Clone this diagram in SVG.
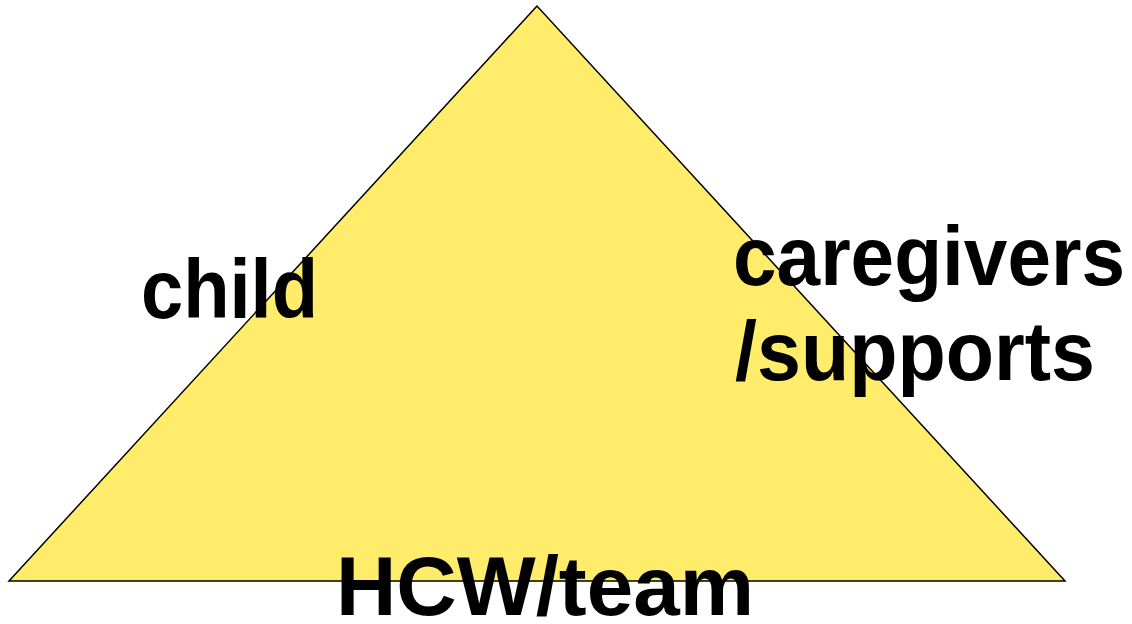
<svg xmlns="http://www.w3.org/2000/svg" width="1132" height="624" viewBox="0 0 1132 624">
<style>
.lbl{font-family:"Comic Sans MS","Liberation Sans",Arial,sans-serif;font-weight:bold;font-size:84px;fill:#000}
</style>
<rect width="1132" height="624" fill="#fff"/>
<g id="triangle">
<polygon points="537,6 9,581 1065,581" fill="#FFEC6A" stroke="#000" stroke-width="1.5" stroke-linejoin="miter"/>
</g>
<g id="child"><text class="lbl" x="141" y="318" textLength="177" lengthAdjust="spacingAndGlyphs">child</text></g>
<g id="caregivers"><text class="lbl" x="733" y="285" textLength="392" lengthAdjust="spacingAndGlyphs">caregivers</text>
<text class="lbl" x="735" y="380" textLength="360" lengthAdjust="spacingAndGlyphs">/supports</text></g>
<g id="hcw"><text class="lbl" x="336" y="615" textLength="418" lengthAdjust="spacingAndGlyphs">HCW/team</text></g>
</svg>
